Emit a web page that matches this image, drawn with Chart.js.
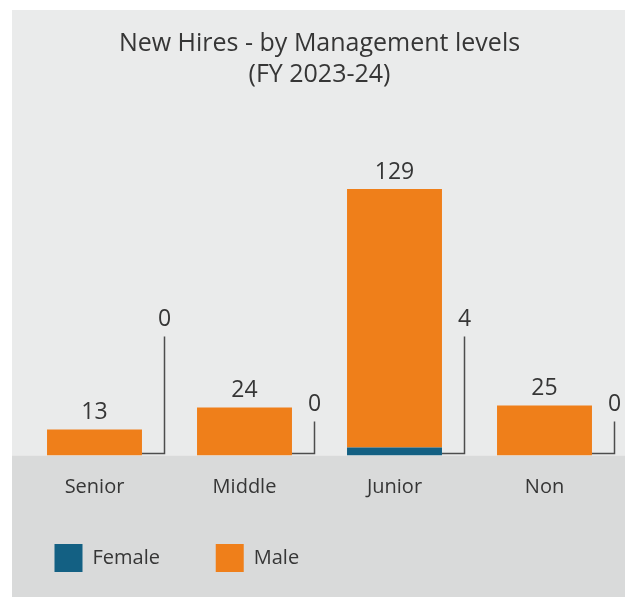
<!DOCTYPE html>
<html>
<head>
<meta charset="utf-8">
<script src="https://cdn.jsdelivr.net/npm/chart.js@4.4.0/dist/chart.umd.min.js"></script>
<style>
  html, body { margin: 0; padding: 0; background: #fff; }
  #wrap { width: 625px; height: 597px; position: relative; }
</style>
</head>
<body>
<div id="wrap"><canvas id="myChart"></canvas></div>
<script>
// chart data
const levels = ['Senior', 'Middle', 'Junior', 'Non'];
const female = [0, 0, 4, 0];
const male = [13, 24, 129, 25];
const seriesNames = ['Female', 'Male'];

const textColor = '#363636';
const fontFamily = '"Open Sans", Lato, sans-serif';

// two grey panels behind the chart, split at the baseline
const panelPlugin = {
  id: 'panels',
  beforeDraw(chart) {
    const ctx = chart.ctx;
    const base = chart.scales.y.getPixelForValue(0);
    ctx.save();
    ctx.fillStyle = '#ffffff';
    ctx.fillRect(0, 0, chart.width, chart.height);
    ctx.fillStyle = '#eaebeb';
    ctx.fillRect(12, 10, chart.width - 12, base - 10);
    ctx.fillStyle = '#d9dada';
    ctx.fillRect(12, base, chart.width - 12, chart.height - base);
    ctx.restore();
  }
};

// value labels: male above the bar, female on a leader line beside it
const labelPlugin = {
  id: 'valueLabels',
  afterDatasetsDraw(chart, args, opts) {
    const ctx = chart.ctx;
    const base = chart.scales.y.getPixelForValue(0);
    ctx.save();
    ctx.font = '23px ' + fontFamily;
    ctx.fillStyle = textColor;
    ctx.textAlign = 'center';
    ctx.textBaseline = 'middle';

    chart.getDatasetMeta(1).data.forEach((bar, i) => {
      ctx.fillText(String(male[i]), bar.x, bar.y - 17);
    });

    ctx.strokeStyle = '#4d4d4d';
    ctx.lineWidth = 1.5;
    chart.getDatasetMeta(0).data.forEach((bar, i) => {
      const right = bar.x + bar.width / 2;
      const lx = bar.x + 70;
      const ly = base - 2;
      const top = ly - opts.leader[i];
      ctx.beginPath();
      ctx.moveTo(right, ly);
      ctx.lineTo(lx, ly);
      ctx.lineTo(lx, top);
      ctx.stroke();
      ctx.fillText(String(female[i]), lx, top - 17);
    });
    ctx.restore();
  }
};

const config = {
  type: 'bar',
  data: {
    labels: levels,
    datasets: [
      { label: seriesNames[0], data: female, backgroundColor: '#136083', stack: 's' },
      { label: seriesNames[1], data: male, backgroundColor: '#ef7f1a', stack: 's' }
    ]
  },
  options: {
    responsive: true,
    maintainAspectRatio: false,
    animation: false,
    layout: { padding: { left: 19.5, right: 5.5, top: 0, bottom: 15 } },
    datasets: { bar: { categoryPercentage: 1, barPercentage: 0.633 } },
    scales: {
      x: {
        stacked: true,
        grid: { display: false, drawTicks: false },
        border: { display: false },
        ticks: { color: textColor, font: { family: fontFamily, size: 20 }, padding: 19.5 },
        afterFit(scale) { scale.height = 53.5; }
      },
      y: {
        stacked: true,
        display: false,
        min: 0,
        max: 165
      }
    },
    plugins: {
      title: {
        display: true,
        text: ['New Hires - by Management levels', '(FY 2023-24)'],
        color: textColor,
        font: { family: fontFamily, size: 25, weight: 'normal', lineHeight: 1.25 },
        padding: { top: 28, bottom: 34.5 }
      },
      legend: {
        position: 'bottom',
        align: 'start',
        labels: {
          boxWidth: 28,
          boxHeight: 28,
          padding: 35,
          color: textColor,
          font: { family: fontFamily, size: 20 },
          generateLabels(chart) {
            // pad the first label so the second entry sits further right
            return Chart.defaults.plugins.legend.labels.generateLabels(chart).map((item, i) => {
              if (i === 0) item.text = item.text + '    ';
              return item;
            });
          }
        }
      },
      tooltip: { enabled: false },
      valueLabels: { leader: [117, 32, 117, 32] }
    }
  },
  plugins: [panelPlugin, labelPlugin]
};

const myChart = new Chart(document.getElementById('myChart'), config);
</script>
</body>
</html>
